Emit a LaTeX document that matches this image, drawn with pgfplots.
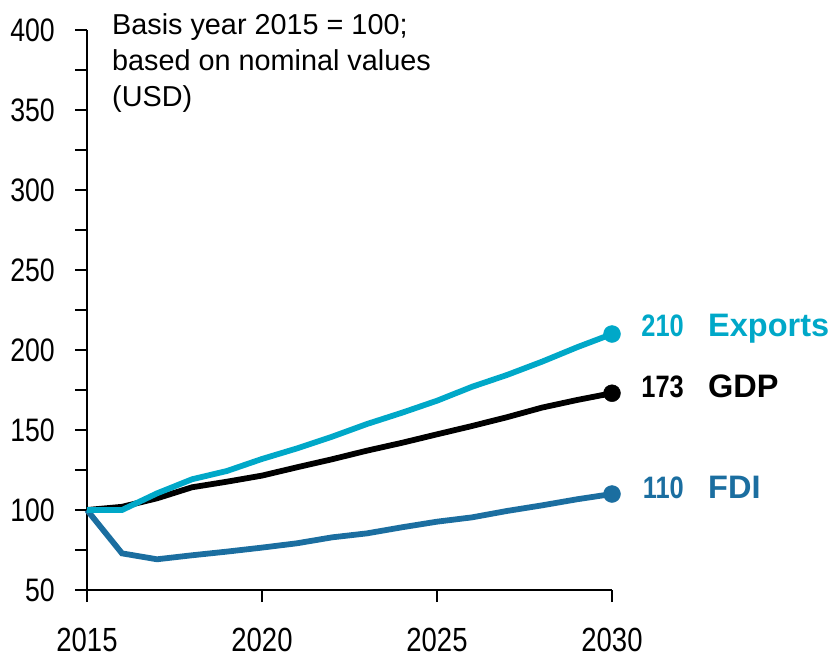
\documentclass[border=0pt]{standalone}
\usepackage{fontspec}
\setmainfont{Liberation Sans}
\newfontfamily\narrow{Liberation Sans}[FakeStretch=0.82]
\usepackage{pgfplots}
\pgfplotsset{compat=1.18}
\definecolor{expc}{RGB}{0,168,200}
\definecolor{fdic}{RGB}{27,110,160}
\begin{document}
\begin{tikzpicture}
\begin{axis}[
  scale only axis,
  width=525pt, height=560pt,
  xmin=2015, xmax=2030, ymin=50, ymax=400,
  axis x line*=bottom, axis y line*=left,
  axis line style={line width=2.5pt},
  every tick/.style={line width=2.5pt, black},
  tick align=outside,
  major tick length=12pt, minor tick length=12pt,
  xtick={2015,2020,2025,2030},
  ytick={50,100,...,400},
  minor ytick={75,125,...,375},
  /pgf/number format/1000 sep={},
  /pgf/number format/assume math mode=true,
  tick label style={font=\narrow\fontsize{32.5}{32.5}\selectfont, inner sep=0pt},
  yticklabel style={anchor=east, xshift=-20pt},
  xticklabel style={anchor=north, yshift=-26pt, font=\narrow\fontsize{33.5}{33.5}\selectfont},
  clip=false,
]
\addplot[fdic, line width=5.8pt] coordinates {
(2015,100)(2016,72.9)(2017,69.2)(2018,71.7)(2019,74)(2020,76.5)(2021,79.2)(2022,82.9)(2023,85.4)(2024,89.2)(2025,92.7)(2026,95.4)(2027,99.4)(2028,102.9)(2029,106.7)(2030,110)};
\addplot[black, line width=5.8pt] coordinates {
(2015,100)(2016,102)(2017,107.3)(2018,114.2)(2019,117.7)(2020,121.5)(2021,126.7)(2022,131.7)(2023,137.1)(2024,142)(2025,147.3)(2026,152.5)(2027,158)(2028,164)(2029,168.75)(2030,173)};
\addplot[expc, line width=5.8pt] coordinates {
(2015,100)(2016,100)(2017,110.4)(2018,119.2)(2019,124.4)(2020,131.9)(2021,138.5)(2022,145.8)(2023,153.75)(2024,160.8)(2025,168.3)(2026,177)(2027,184.4)(2028,192.7)(2029,201.7)(2030,210)};
\addplot[only marks, mark=*, mark size=8.5pt, fdic] coordinates {(2030,110)};
\addplot[only marks, mark=*, mark size=8.5pt, black] coordinates {(2030,173)};
\addplot[only marks, mark=*, mark size=8.5pt, expc] coordinates {(2030,210)};
\coordinate (O) at (rel axis cs:0,0);
% end labels
\node[anchor=base east, inner sep=0pt, text=expc, font=\narrow\bfseries\fontsize{31}{31}\selectfont] at ([xshift=72pt,yshift=-2pt]axis cs:2030,210) {210};
\node[anchor=base west, inner sep=0pt, text=expc, font=\bfseries\fontsize{32.5}{32.5}\selectfont] at ([xshift=96pt,yshift=-2pt]axis cs:2030,210) {Exports};
\node[anchor=base east, inner sep=0pt, text=black, font=\narrow\bfseries\fontsize{31}{31}\selectfont] at ([xshift=72pt,yshift=-4pt]axis cs:2030,173) {173};
\node[anchor=base west, inner sep=0pt, text=black, font=\bfseries\fontsize{32.5}{32.5}\selectfont] at ([xshift=96pt,yshift=-4pt]axis cs:2030,173) {GDP};
\node[anchor=base east, inner sep=0pt, text=fdic, font=\narrow\bfseries\fontsize{31}{31}\selectfont] at ([xshift=72pt,yshift=-4pt]axis cs:2030,110) {110};
\node[anchor=base west, inner sep=0pt, text=fdic, font=\bfseries\fontsize{32.5}{32.5}\selectfont] at ([xshift=96pt,yshift=-4pt]axis cs:2030,110) {FDI};
% annotation
\node[anchor=base west, inner sep=0pt, font=\fontsize{28.8}{28.8}\selectfont] at (axis cs:2015.714,396.9) {Basis year 2015 = 100;};
\node[anchor=base west, inner sep=0pt, font=\fontsize{28.8}{28.8}\selectfont] at (axis cs:2015.714,374.4) {based on nominal values};
\node[anchor=base west, inner sep=0pt, font=\fontsize{28.8}{28.8}\selectfont] at (axis cs:2015.714,351.9) {(USD)};
\end{axis}
\pgfresetboundingbox
\path[use as bounding box] ([shift={(-87pt,-67pt)}]O) rectangle ([shift={(743pt,590pt)}]O);
\end{tikzpicture}
\end{document}
